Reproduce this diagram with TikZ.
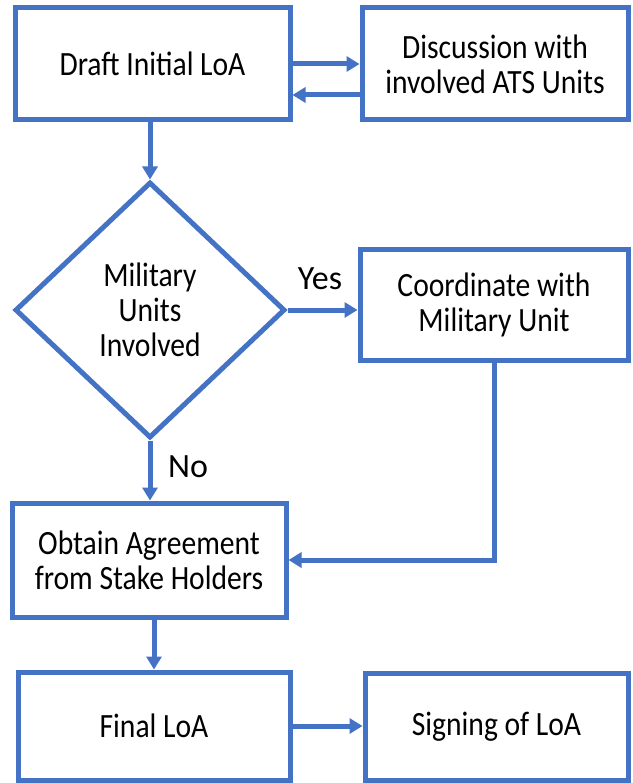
\documentclass[tikz,border=0pt]{standalone}
\usepackage{fontspec}
\setmainfont{Carlito}[FakeStretch=0.87]
\newfontfamily\lblfont{Carlito}
\usetikzlibrary{shapes.geometric,arrows.meta}
\definecolor{flowblue}{HTML}{4472C4}
\tikzset{
  box/.style={draw=flowblue, line width=5pt, rectangle, align=center, inner sep=0pt, fill=white},
  decision/.style={draw=flowblue, line width=5pt, diamond, align=center, inner sep=0pt, fill=white},
  arr/.style={draw=flowblue, line width=5pt, -{Triangle[length=13pt,width=15pt]}},
  lbl/.style={inner sep=0pt, text=black, font=\lblfont\fontsize{34}{40}\selectfont},
  every node/.style={font=\fontsize{34}{35}\selectfont}
}
\begin{document}
\begin{tikzpicture}[x=1pt,y=1pt]
\useasboundingbox (0,0) rectangle (632,-783);
\node[box, minimum width=275pt, minimum height=112pt] (draft) at (152.5,-64) {Draft Initial LoA};
\node[box, minimum width=266pt, minimum height=112pt] (disc) at (495,-64) {Discussion with\\involved ATS Units};
\node[decision, minimum width=270pt, minimum height=256pt] (dia) at (150,-310) {Military\\Units\\Involved};
\node[box, minimum width=268pt, minimum height=110pt] (coord) at (494,-305) {Coordinate with\\Military Unit};
\node[box, minimum width=274pt, minimum height=114pt] (obtain) at (149,-560) {Obtain Agreement\\from Stake Holders};
\node[box, minimum width=272pt, minimum height=108pt] (final) at (154,-726) {Final LoA};
\node[box, minimum width=263pt, minimum height=107pt] (sign) at (496.5,-726.5) {Signing of LoA};
\node[lbl] (yes) at (320,-279) {Yes};
\node[lbl] (no) at (188,-467) {No};

\draw[arr] (draft.east) -- (disc.west);
\draw[arr] ([yshift=-31pt]disc.west) -- ([yshift=-31pt]draft.east);
\draw[arr] (draft.south -| dia.north) -- (dia.north);
\draw[arr] (dia.east) -- (dia.east -| coord.west);
\draw[arr] (dia.south) -- (dia.south |- obtain.north);
\draw[arr] (coord.south) |- (obtain.east);
\draw[arr] (final.north |- obtain.south) -- (final.north);
\draw[arr] (final.east) -- (final.east -| sign.west);
\end{tikzpicture}
\end{document}
